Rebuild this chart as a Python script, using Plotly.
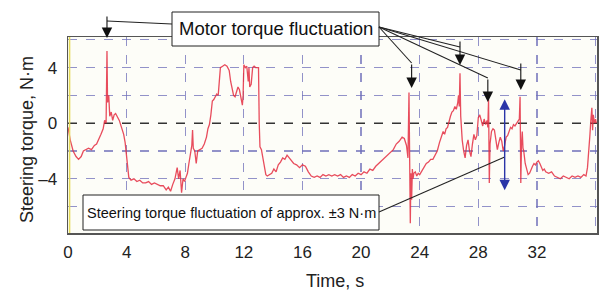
import plotly.graph_objects as go

# ---------------- data ----------------
time_s = [
    0.0, 0.15, 0.35, 0.55, 0.72, 0.9, 1.05, 1.2, 1.4, 1.6,
    1.8, 1.95, 2.1, 2.25, 2.4, 2.5, 2.6, 2.63, 2.66, 2.7,
    2.78, 2.85, 2.95, 3.05, 3.15, 3.25, 3.35, 3.5, 3.65, 3.8,
    3.9, 4.0, 4.08, 4.15, 4.3, 4.5, 4.7, 4.9, 5.1, 5.3,
    5.5, 5.7, 5.9, 6.1, 6.3, 6.5, 6.7, 6.85, 7.0, 7.15,
    7.3, 7.45, 7.55, 7.65, 7.75, 7.85, 7.95, 8.05, 8.15, 8.25,
    8.35, 8.45, 8.5, 8.55, 8.65, 8.75, 8.85, 9.0, 9.15, 9.3,
    9.45, 9.55, 9.65, 9.75, 9.85, 9.95, 10.05, 10.15, 10.25, 10.32,
    10.4, 10.55, 10.7, 10.85, 11.0, 11.1, 11.2, 11.3, 11.4, 11.5,
    11.6, 11.7, 11.8, 11.9, 11.95, 12.0, 12.1, 12.2, 12.3, 12.35,
    12.4, 12.5, 12.6, 12.7, 12.8, 12.9, 13.0, 13.05, 13.1, 13.2,
    13.3, 13.4, 13.5, 13.6, 13.75, 13.9, 14.05, 14.2, 14.35, 14.5,
    14.65, 14.8, 14.95, 15.1, 15.25, 15.4, 15.6, 15.8, 16.0, 16.2,
    16.4, 16.6, 16.8, 17.0, 17.2, 17.4, 17.6, 17.8, 18.0, 18.2,
    18.4, 18.6, 18.8, 19.0, 19.2, 19.4, 19.6, 19.8, 20.0, 20.2,
    20.4, 20.6, 20.8, 21.0, 21.2, 21.4, 21.6, 21.8, 22.0, 22.2,
    22.4, 22.6, 22.8, 22.95, 23.1, 23.2, 23.27, 23.32, 23.36, 23.4,
    23.45, 23.5, 23.55, 23.6, 23.7, 23.8, 23.9, 24.0, 24.1, 24.2,
    24.3, 24.45, 24.6, 24.75, 24.9, 25.05, 25.2, 25.35, 25.5, 25.6,
    25.7, 25.8, 25.9, 26.0, 26.1, 26.2, 26.3, 26.4, 26.5, 26.6,
    26.65, 26.7, 26.75, 26.8, 26.85, 26.9, 27.0, 27.1, 27.2, 27.3,
    27.4, 27.5, 27.6, 27.7, 27.8, 27.9, 28.0, 28.1, 28.2, 28.3,
    28.4, 28.5, 28.6, 28.65, 28.7, 28.75, 28.8, 28.9, 29.0, 29.1,
    29.2, 29.3, 29.4, 29.5, 29.6, 29.7, 29.8, 29.9, 30.0, 30.1,
    30.2, 30.3, 30.4, 30.5, 30.6, 30.7, 30.8, 30.85, 30.9, 30.95,
    31.0, 31.05, 31.1, 31.2, 31.3, 31.4, 31.5, 31.6, 31.7, 31.8,
    31.9, 32.0, 32.1, 32.2, 32.3, 32.4, 32.5, 32.6, 32.8, 33.0,
    33.2, 33.4, 33.6, 33.8, 34.0, 34.2, 34.4, 34.6, 34.8, 35.0,
    35.2, 35.35, 35.45, 35.55, 35.62, 35.68, 35.75, 35.8, 35.85, 35.9,
    35.95, 36.0, 36.05,
]
torque_nm = [
    -0.3, -1.2, -2.0, -2.4, -2.6, -2.4, -2.0, -1.9, -1.8, -1.9,
    -1.6, -1.5, -1.2, -0.8, -0.4, 0.2, 0.0, 2.0, 5.2, 1.5,
    2.0, 0.5, 0.8, 0.2, 0.6, 0.7, 0.5, 0.2, -0.3, -0.8,
    -1.4, -2.4, -3.6, -3.9, -4.1, -4.0, -4.2, -4.1, -4.3, -4.3,
    -4.2, -4.4, -4.3, -4.4, -4.5, -4.5, -4.8, -4.6, -4.9, -4.4,
    -4.0, -3.2, -4.0, -3.4, -5.0, -4.0, -4.2, -3.9, -3.6, -2.9,
    -2.2, -1.6, -0.5, -1.8, -2.0, -2.9, -2.0, -1.9, -1.8, -1.5,
    -1.0, -0.4, -0.1, 0.6, 1.6, 1.7, 1.9, 2.1, 2.0, 3.2,
    4.0, 4.1, 4.2, 4.1, 3.8, 3.0, 2.4, 2.0, 1.9, 2.2,
    2.6, 2.4, 1.8, 1.3, 2.0, 4.2, 4.0, 4.1, 3.0, 4.0,
    2.6, 2.8, 4.0, 4.1, 4.0, 4.0, 4.0, 0.0, -1.7, -1.9,
    -2.5, -3.4, -3.7, -3.8, -3.7, -3.6, -3.3, -3.5, -3.0, -2.8,
    -2.5, -2.6, -2.3, -2.5, -2.7, -2.9, -3.0, -3.2, -3.0, -3.1,
    -3.5, -3.8, -3.9, -3.8, -3.9, -3.7, -3.8, -3.7, -3.8, -3.7,
    -3.8, -3.7, -3.9, -3.8, -3.9, -3.7, -3.8, -3.6, -3.7, -3.5,
    -3.6, -3.3, -3.4, -3.1, -2.9, -2.7, -2.5, -2.3, -2.1, -1.9,
    -1.5, -1.3, -1.0, -1.1, -1.6, -2.5, 2.2, -3.5, -7.2, -3.6,
    -5.5, -3.3, -4.0, -3.6, -3.5, -3.8, -3.6, -3.7, -3.5, -3.4,
    -3.2, -2.9, -2.8, -2.6, -2.6, -2.3, -2.0, -1.4, -1.0, -0.6,
    -0.8, -0.4, -0.3, 0.2, 0.5, 0.8, 0.9, 1.2, 1.0, 1.5,
    2.0, 1.2, 3.6, 0.5, -0.5, -1.2, -2.0, -2.5, -1.6, -1.2,
    -2.0, -2.4, -1.5, -0.8, -1.2, -0.9, 0.4, 0.6, 0.2, -0.2,
    0.3, -0.1, 0.2, -0.3, 1.7, -4.3, -1.5, -0.6, -0.4, -0.5,
    -1.2, -1.9, -1.4, -1.0, -1.3, -2.0, -1.6, -1.0, -0.9, -0.6,
    -0.3, -0.4, -0.1, -0.2, 0.0, 0.2, 0.3, 1.9, -4.3, -1.5,
    -0.6, -1.8, -2.0, -2.9, -3.4, -3.7, -3.6, -3.3, -3.1, -2.9,
    -3.0, -2.8, -2.7, -2.9, -3.2, -3.4, -3.3, -3.5, -3.6, -3.5,
    -3.8, -3.9, -4.0, -3.8, -3.9, -4.0, -3.8, -3.9, -3.8, -3.9,
    -3.7, -3.8, -3.2, -2.0, -0.8, 0.2, 1.1, -0.5, 0.6, 0.2,
    0.0, 0.3, 0.0,
]

x_ticks = [0, 4, 8, 12, 16, 20, 24, 28, 32]
x_grid = [4, 8, 12, 16, 20, 24, 28, 32, 36]
y_ticks = [-4, 0, 4]
y_grid = [-6, -4, -2, 2, 4, 6]

# Annotation targets (time of the spikes marked as motor torque fluctuation)
motor_spike_times = [2.66, 23.45, 26.75, 28.65, 30.9]
band_time = 29.8
band_low, band_high = -4.94, 1.73

x_title = "Time, s"
y_title = "Steering torque, N·m"
label_motor = "Motor torque fluctuation"
label_band = "Steering torque fluctuation of approx. ±3 N·m"

# ---------------- layout geometry ----------------
W, H = 602, 291
ML, MR, MT, MB = 68, 5, 37, 58
XR = [0, 36.1]
YR = [-7.9, 6.2]
PW, PH = W - ML - MR, H - MT - MB


def px(xp):
    return (xp - ML) / PW


def py(yp):
    return (H - MB - yp) / PH


def tx(t):
    return (t - XR[0]) / (XR[1] - XR[0])


FONT = "Liberation Sans, Arial, Helvetica, sans-serif"
NARROW = "Liberation Sans Narrow, Arial Narrow, Liberation Sans, Arial, sans-serif"
GRID = "rgba(110,110,185,0.75)"

fig = go.Figure()
fig.add_trace(go.Scatter(
    x=time_s, y=torque_nm, mode="lines",
    line=dict(color="rgba(228,45,65,0.85)", width=1.3),
    hoverinfo="skip", showlegend=False,
))

shapes = []
# zero reference line
shapes.append(dict(type="line", xref="paper", yref="y", x0=0, x1=1, y0=0, y1=0,
                   line=dict(color="#333333", width=1.4, dash="dash"), layer="below"))
# yellow inner left edge
shapes.append(dict(type="line", xref="paper", yref="paper", x0=0.003, x1=0.003, y0=0, y1=1,
                   line=dict(color="#e6dc5a", width=1.5), layer="above"))

# Motor torque box and leader lines
shapes.append(dict(type="rect", xref="paper", yref="paper",
                   x0=px(172), x1=px(379), y0=py(12), y1=py(46),
                   line=dict(color="#222", width=1), fillcolor="white", layer="above"))
tails = [(motor_spike_times[0], 21), (motor_spike_times[1], 63), (motor_spike_times[2], 47),
         (motor_spike_times[3], 78), (motor_spike_times[4], 70)]
for i, (t, yy) in enumerate(tails):
    x_from = px(172) if i == 0 else px(379)
    y_from = py(24) if i == 0 else py(27)
    shapes.append(dict(type="line", xref="paper", yref="paper",
                       x0=x_from, y0=y_from, x1=tx(t), y1=py(yy),
                       line=dict(color="#222", width=1.1), layer="above"))

# band box and leader
shapes.append(dict(type="rect", xref="paper", yref="paper",
                   x0=px(83), x1=px(379), y0=py(195), y1=py(230),
                   line=dict(color="#222", width=1), fillcolor="white", layer="above"))
shapes.append(dict(type="line", xref="paper", yref="paper",
                   x0=px(379), y0=py(212), x1=tx(band_time), y1=py(157),
                   line=dict(color="#222", width=1.1), layer="above"))

annotations = []
annotations.append(dict(x=px(275.5), y=py(29), xref="paper", yref="paper", text=label_motor,
                        xanchor="center", yanchor="middle",
                        showarrow=False, font=dict(family=FONT, size=18.5, color="#111")))
annotations.append(dict(x=px(231), y=py(212.5), xref="paper", yref="paper", text=label_band,
                        xanchor="center", yanchor="middle",
                        showarrow=False, font=dict(family=NARROW, size=14.5, color="#111")))

arrow_spans = [(15, 38), (63, 88), (40, 65), (78, 102), (62, 90)]
for t, (ytail, ytip) in zip(motor_spike_times, arrow_spans):
    annotations.append(dict(x=t, y=py(ytip), xref="x", yref="paper", text="",
                            showarrow=True, ax=0, ay=-(ytip - ytail),
                            arrowhead=2, arrowsize=1.9, arrowwidth=1.1, arrowcolor="#111"))

# blue double arrow
annotations.append(dict(x=band_time, y=band_high, xref="x", yref="y",
                        ax=band_time, ay=band_low, axref="x", ayref="y", text="",
                        showarrow=True, arrowhead=2, startarrowhead=2, arrowside="end+start",
                        arrowsize=1.5, startarrowsize=1.5, arrowwidth=1.4, arrowcolor="#2a35a8"))

# axis titles
annotations.append(dict(x=px(335), y=py(281), xref="paper", yref="paper", text=x_title,
                        xanchor="center", yanchor="middle",
                        showarrow=False, font=dict(family=FONT, size=18, color="#222")))
annotations.append(dict(x=px(27), y=py(140), xref="paper", yref="paper", text=y_title,
                        xanchor="center", yanchor="middle",
                        textangle=-90, showarrow=False, font=dict(family=FONT, size=18, color="#222")))

fig.update_layout(
    width=W, height=H,
    margin=dict(l=ML, r=MR, t=MT, b=MB, autoexpand=False),
    paper_bgcolor="white", plot_bgcolor="#fdfdf8",
    shapes=shapes, annotations=annotations,
    showlegend=False,
)
fig.update_xaxes(
    range=XR, tickvals=x_ticks, ticktext=[str(v) for v in x_ticks], showgrid=False, zeroline=False,
    ticks="", ticklabelstandoff=3, tickfont=dict(family=FONT, size=17, color="#222"),
    showline=True, mirror=True, linecolor="#555", linewidth=1.5,
    minor=dict(tickvals=x_grid, showgrid=True, gridcolor=GRID, gridwidth=1.3, griddash="dash", ticks=""),
)
fig.update_yaxes(
    range=YR, tickvals=y_ticks, ticktext=["–4", "0", "4"], showgrid=False, zeroline=False,
    ticks="", ticklabelstandoff=6, tickfont=dict(family=FONT, size=17, color="#222"),
    showline=True, mirror=True, linecolor="#555", linewidth=1.5,
    minor=dict(tickvals=y_grid, showgrid=True, gridcolor=GRID, gridwidth=1.3, griddash="dash", ticks=""),
)

fig.write_html("out.html", config={"displayModeBar": False, "staticPlot": True},
               post_script="document.body.style.margin='0px';")
